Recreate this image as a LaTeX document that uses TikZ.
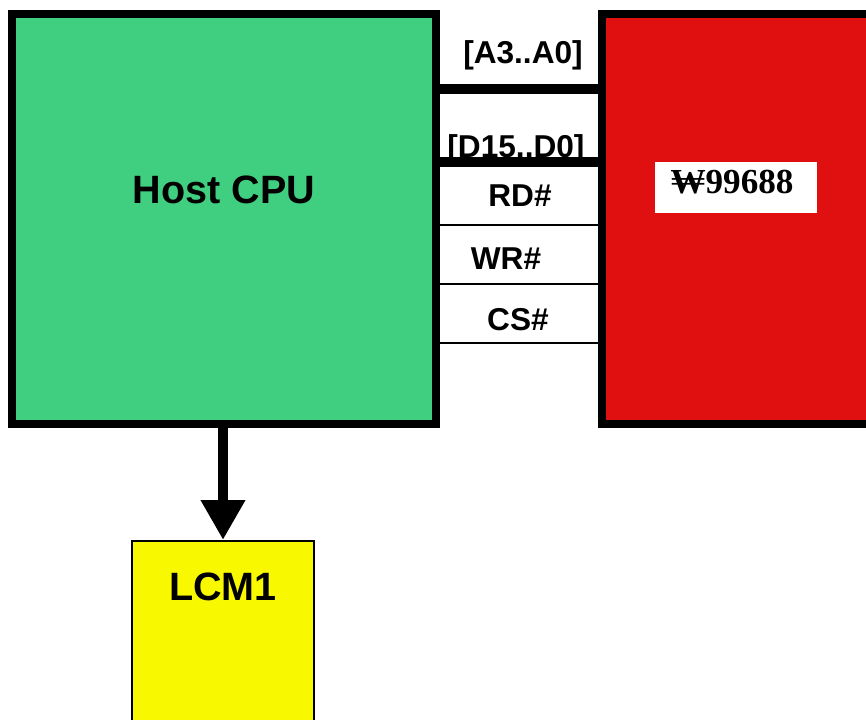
\documentclass[tikz,border=0pt]{standalone}
\usepackage{fontspec}
\setmainfont{Liberation Sans}
\newfontfamily\chipfont{Liberation Serif}
\usetikzlibrary{arrows.meta,positioning}
\definecolor{cpugreen}{RGB}{64,207,128}
\definecolor{chipred}{RGB}{224,16,16}
\definecolor{lcmyellow}{RGB}{248,248,0}
\tikzset{
  blk/.style={draw, line width=5pt, minimum width=8.48cm, minimum height=8.2cm, inner sep=0pt},
  cpubox/.style={blk, fill=cpugreen},
  chipbox/.style={blk, fill=chipred, minimum width=8cm},
  lcmbox/.style={draw, line width=0.9pt, fill=lcmyellow, minimum width=3.64cm, minimum height=5.2cm, inner sep=0pt},
  tagbox/.style={fill=white, minimum width=3.24cm, minimum height=1.02cm, inner sep=0pt},
  blkname/.style={font=\fontsize{22.5}{26}\selectfont\bfseries, inner sep=0pt},
  tagtxt/.style={font=\chipfont\fontsize{20}{24}\selectfont\bfseries, inner sep=0pt},
  sig/.style={font=\fontsize{18}{21}\selectfont\bfseries, inner sep=0pt},
  bus/.style={line width=5.7pt},
  wire/.style={line width=0.9pt},
  arr/.style={-{Triangle[length=0.8cm,width=0.84cm]}, line width=5.7pt}
}
\begin{document}
\begin{tikzpicture}[x=0.02cm, y=-0.02cm]
  \useasboundingbox (0,0) rectangle (866,720);
  \clip (0,0) rectangle (866,720);
  % blocks
  \node[cpubox] (cpu) at (224,219) {};
  \node[chipbox] (chip) at (802,219) {};
  \node[lcmbox, anchor=north] (lcm) at (223,540) {};
  \node[blkname] (cpuname) at (224,190) {Host CPU};
  \node[blkname] (lcmname) at (223,587) {LCM1};
  \node[tagbox] (tag) at (736,187.5) {};
  \node[tagtxt] (tagname) at (732,182) {₩99688};
  % signal labels
  \node[sig] (addr) at (523,55) {[A3..A0]};
  \node[sig] (data) at (516,149) {[D15..D0]};
  \node[sig] (rd) at (520,196) {RD\#};
  \node[sig] (wr) at (506,259) {WR\#};
  \node[sig] (cs) at (518,320) {CS\#};
  % bus lines
  \coordinate (abus) at (520,89);
  \coordinate (dbus) at (520,162);
  \coordinate (rdl) at (520,225);
  \coordinate (wrl) at (520,284);
  \coordinate (csl) at (520,343);
  \draw[bus] (cpu.east |- abus) -- (chip.west |- abus);
  \draw[bus] (cpu.east |- dbus) -- (chip.west |- dbus);
  \foreach \l in {rdl,wrl,csl}
    \draw[wire] (cpu.east |- \l) -- (chip.west |- \l);
  % to the display
  \draw[arr] (cpu.south -| lcm.north) -- (lcm.north);
\end{tikzpicture}
\end{document}
